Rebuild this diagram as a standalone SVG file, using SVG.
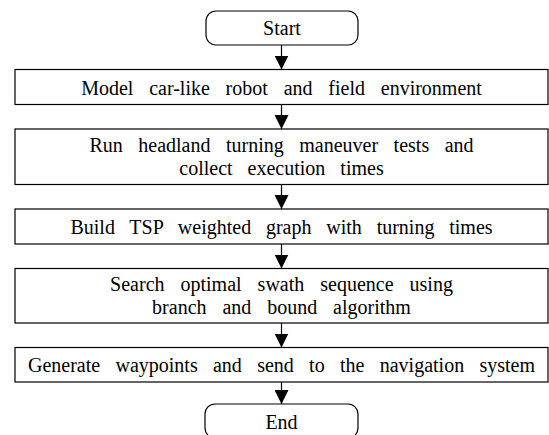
<svg xmlns="http://www.w3.org/2000/svg" width="549" height="435" viewBox="0 0 549 435">
  <style>
    .box { fill: #ffffff; stroke: #000000; stroke-width: 1.2; }
    .lbl { font-family: "Liberation Serif", "Times New Roman", serif; font-size: 20px; fill: #000000; text-anchor: middle; }
    .flow { stroke: #000000; stroke-width: 1.2; fill: none; marker-end: url(#arrow); }
  </style>
  <defs>
    <marker id="arrow" markerUnits="userSpaceOnUse" markerWidth="14" markerHeight="14" viewBox="0 0 12 12" refX="12" refY="6" orient="auto">
      <path d="M0,0 L12,6 L0,12 Z" fill="#000000"/>
    </marker>
  </defs>
  <rect width="549" height="435" fill="#ffffff"/>

  <!-- connectors -->
  <g id="connectors">
    <line class="flow" x1="281.5" y1="45" x2="281.5" y2="69.5"/>
    <line class="flow" x1="281.5" y1="104.5" x2="281.5" y2="129"/>
    <line class="flow" x1="281.5" y1="184.5" x2="281.5" y2="209"/>
    <line class="flow" x1="281.5" y1="244" x2="281.5" y2="268.5"/>
    <line class="flow" x1="281.5" y1="323" x2="281.5" y2="347.5"/>
    <line class="flow" x1="281.5" y1="382" x2="281.5" y2="404"/>
  </g>

  <g id="start">
    <rect class="box" x="206" y="11" width="152" height="34" rx="10" ry="10"/>
    <text class="lbl" x="282" y="34.5">Start</text>
  </g>

  <g id="model">
    <rect class="box" x="15" y="69.5" width="533" height="35"/>
    <text class="lbl" x="281.5" y="95" word-spacing="10.8">Model car-like robot and field environment</text>
  </g>

  <g id="turning-tests">
    <rect class="box" x="15" y="129" width="533" height="55.5"/>
    <text class="lbl" x="281.5" y="152" word-spacing="10.5">Run headland turning maneuver tests and</text>
    <text class="lbl" x="281.5" y="175" word-spacing="10">collect execution times</text>
  </g>

  <g id="tsp-graph">
    <rect class="box" x="15" y="209" width="533" height="35"/>
    <text class="lbl" x="281.5" y="234" word-spacing="9.8">Build TSP weighted graph with turning times</text>
  </g>

  <g id="search">
    <rect class="box" x="15" y="268.5" width="533" height="54.5"/>
    <text class="lbl" x="281.5" y="291" word-spacing="11">Search optimal swath sequence using</text>
    <text class="lbl" x="281.5" y="314" word-spacing="10.9">branch and bound algorithm</text>
  </g>

  <g id="waypoints">
    <rect class="box" x="15" y="347.5" width="533" height="34.5"/>
    <text class="lbl" x="281.5" y="372" word-spacing="10.3">Generate waypoints and send to the navigation system</text>
  </g>

  <g id="end">
    <rect class="box" x="205" y="404" width="153" height="34" rx="10" ry="10"/>
    <text class="lbl" x="281.5" y="429.3">End</text>
  </g>
</svg>
